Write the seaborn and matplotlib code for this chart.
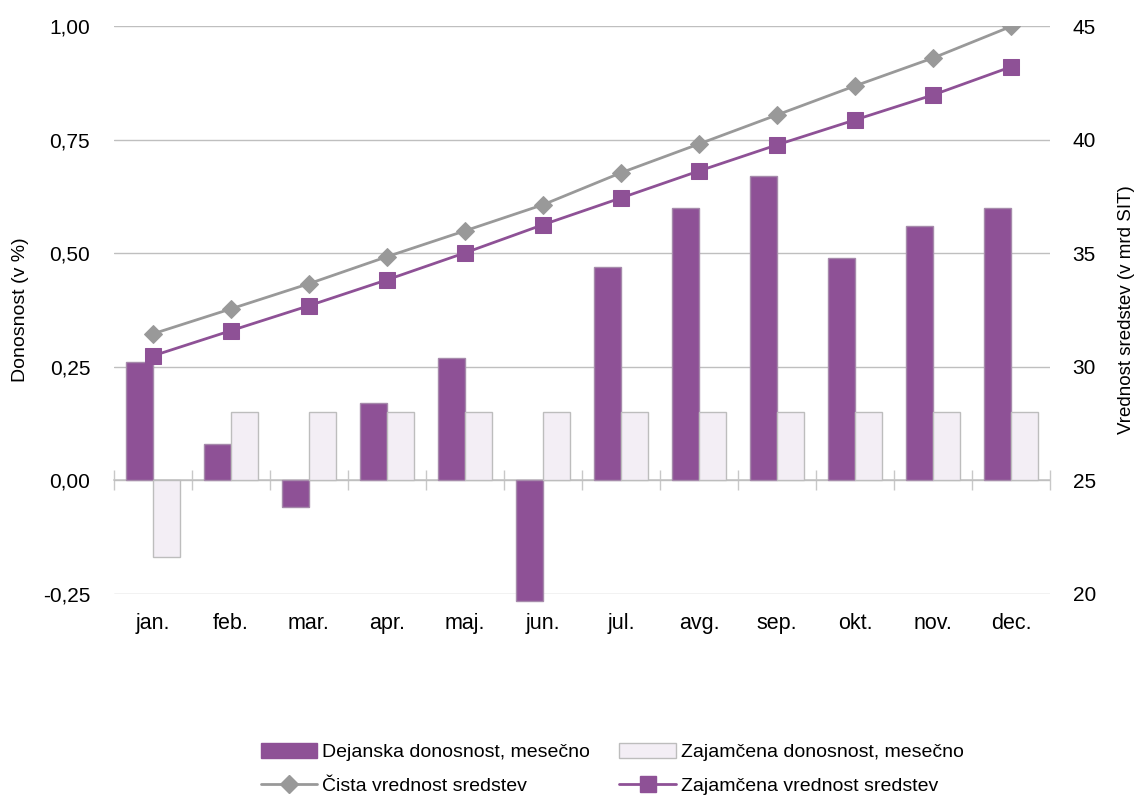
import numpy as np
import pandas as pd
import matplotlib
matplotlib.use("Agg")
import matplotlib.pyplot as plt
import seaborn as sns
from matplotlib.lines import Line2D
from matplotlib.patches import Patch
from matplotlib.ticker import FuncFormatter, FixedLocator

months = ["jan.", "feb.", "mar.", "apr.", "maj.", "jun.", "jul.", "avg.", "sep.", "okt.", "nov.", "dec."]
dejanska = [0.26, 0.08, -0.06, 0.17, 0.27, -0.265, 0.47, 0.60, 0.67, 0.49, 0.56, 0.60]
zajamcena_don = [-0.17, 0.15, 0.15, 0.15, 0.15, 0.15, 0.15, 0.15, 0.15, 0.15, 0.15, 0.15]
cista_vred = [31.45, 32.55, 33.66, 34.85, 35.99, 37.14, 38.55, 39.82, 41.10, 42.38, 43.61, 45.00]
zajamcena_vred = [30.48, 31.59, 32.69, 33.83, 35.02, 36.26, 37.44, 38.63, 39.78, 40.88, 41.98, 43.22]

lbl_dej = "Dejanska donosnost, mesečno"
lbl_zdon = "Zajamčena donosnost, mesečno"
lbl_cis = "Čista vrednost sredstev"
lbl_zvr = "Zajamčena vrednost sredstev"

PURPLE = "#8E5196"
LIGHT = "#F3EEF5"
GRAY_LINE = "#999999"
GRID = "#BFBFBF"

sns.set_style("white")
plt.rcParams['font.family'] = ['Liberation Sans', 'DejaVu Sans']
plt.rcParams['text.color'] = 'black'
plt.rcParams['axes.labelcolor'] = 'black'
plt.rcParams['xtick.color'] = 'black'
plt.rcParams['ytick.color'] = 'black'

bars = pd.DataFrame({
    "month": months * 2,
    "value": dejanska + zajamcena_don,
    "series": [lbl_dej] * 12 + [lbl_zdon] * 12,
})

fig = plt.figure(figsize=(11.38, 7.98), dpi=100)
ax = fig.add_axes([0.100, 0.256, 0.823, 0.711])

sns.barplot(data=bars, x="month", y="value", hue="series", order=months,
            hue_order=[lbl_dej, lbl_zdon], palette=[PURPLE, LIGHT],
            width=0.69, ax=ax, legend=False, errorbar=None, saturation=1)
for i, cont in enumerate(ax.containers):
    for p in cont.patches:
        p.set_edgecolor("#A68AAB" if i == 0 else "#BDBDBD")
        p.set_linewidth(1.0)
        p.set_clip_on(False)
        p.set_zorder(3)

ax.set_ylim(-0.25, 1.0)
ax.set_xlim(-0.5, 11.5)
ax.set_yticks([-0.25, 0, 0.25, 0.5, 0.75, 1.0])
ax.yaxis.set_major_formatter(FuncFormatter(lambda v, p: f"{v:.2f}".replace(".", ",")))
ax.grid(axis="y", color=GRID, linewidth=1.0, zorder=0)
ax.set_axisbelow(True)
for s in ax.spines.values():
    s.set_visible(False)
ax.tick_params(axis="y", length=0, pad=17, labelsize=15, labelcolor="black")
ax.tick_params(axis="x", length=0, pad=14, labelsize=15.5, labelcolor="black")
ax.set_xlabel("")
ax.set_ylabel("Donosnost (v %)", fontsize=14, labelpad=10, color="black")

# zero axis line with category separator ticks
sec = ax.secondary_xaxis(0.2)
sec.spines['bottom'].set_color("#C8C8C8")
sec.spines['bottom'].set_linewidth(1.2)
sec.xaxis.set_major_locator(FixedLocator(np.arange(-0.5, 12.0, 1.0)))
sec.tick_params(axis="x", direction="inout", length=14, color="#C8C8C8", labelbottom=False, width=1.0)

ax2 = ax.twinx()
xs = np.arange(len(months))
sns.lineplot(x=xs, y=cista_vred, ax=ax2, color=GRAY_LINE, marker="D", markersize=9,
             markeredgecolor=GRAY_LINE, linewidth=2.0, zorder=4)
sns.lineplot(x=xs, y=zajamcena_vred, ax=ax2, color=PURPLE, marker="s", markersize=11,
             markeredgecolor=PURPLE, linewidth=2.0, zorder=5)
ax2.set_ylim(20, 45)
ax2.set_xlim(-0.5, 11.5)
ax2.set_yticks([20, 25, 30, 35, 40, 45])
for s in ax2.spines.values():
    s.set_visible(False)
ax2.tick_params(axis="y", length=0, pad=16, labelsize=15, labelcolor="black")
ax2.set_ylabel("Vrednost sredstev (v mrd SIT)", fontsize=13.5, labelpad=16, color="black")
ax2.grid(False)

handles = [
    Patch(facecolor=PURPLE, edgecolor=PURPLE, label=lbl_dej),
    Line2D([0], [0], color=GRAY_LINE, marker="D", markersize=9, linewidth=2, label=lbl_cis),
    Patch(facecolor=LIGHT, edgecolor="#BDBDBD", label=lbl_zdon),
    Line2D([0], [0], color=PURPLE, marker="s", markersize=11, linewidth=2, label=lbl_zvr),
]
fig.legend(handles=handles, ncol=2, loc="lower center", bbox_to_anchor=(0.538, -0.018),
           frameon=False, fontsize=14, handlelength=2.9, handleheight=0.85,
           columnspacing=1.5, handletextpad=0.25, labelspacing=0.78, labelcolor="black")

fig.savefig("out.png", dpi=100)
